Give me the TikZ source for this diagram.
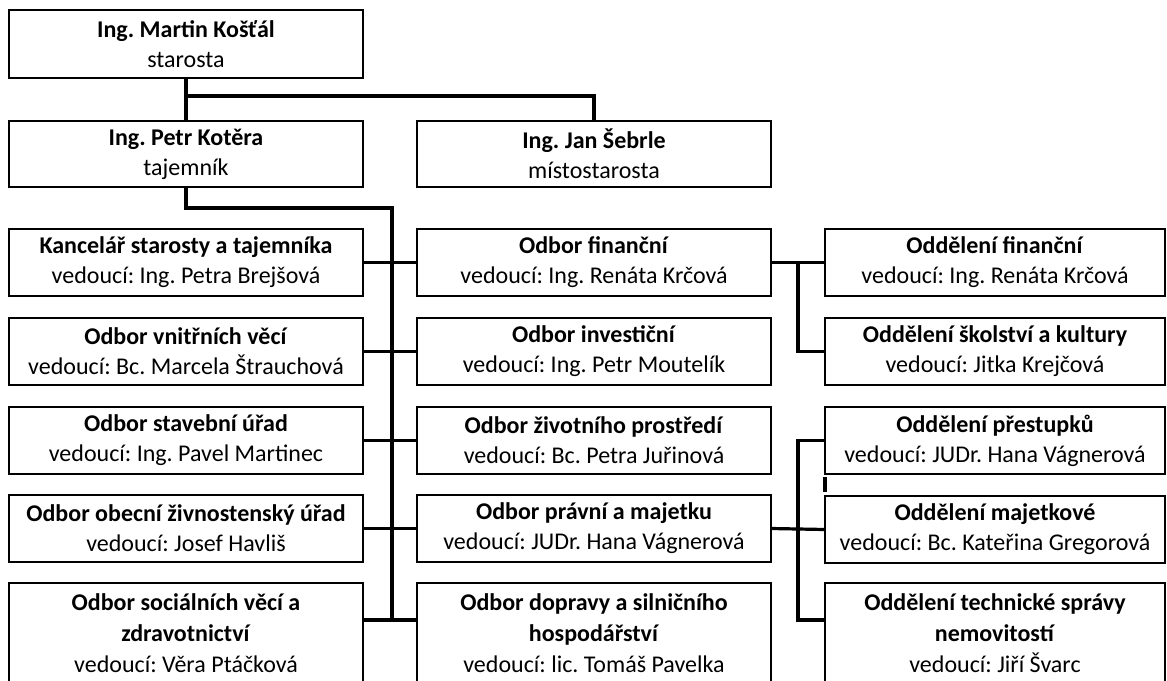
\documentclass[tikz,border=0pt]{standalone}
\usepackage{fontspec}
\setmainfont{Carlito}
\usetikzlibrary{calc}
\newcommand{\orgtext}[2]{\textbf{#1}\\#2}
\begin{document}
\begin{tikzpicture}[x=1pt, y=-1pt,
    box/.style={draw, line width=2.3pt, anchor=north west, align=center, inner sep=0pt, outer sep=0pt,
      minimum width=354pt, minimum height=67pt, font=\fontsize{24}{30}\selectfont\frenchspacing},
    rbox/.style={box, minimum width=340pt},
    tallbox/.style={minimum height=100pt, font=\fontsize{24}{31}\selectfont\frenchspacing},
    link/.style={line width=3.2pt}]
    \useasboundingbox (0,0) rectangle (1167,680);
    % vedeni
    \node[box, minimum height=68pt] (starosta) at (9,10) {\orgtext{Ing. Martin Košťál}{starosta}};
    \node[box, minimum height=66pt] (tajemnik) at (9,121) {\orgtext{Ing. Petr Kotěra}{tajemník}};
    \node[box, minimum height=66pt] (mistostarosta) at (417,121) {\orgtext{Ing. Jan Šebrle}{místostarosta}};
    % odbory vlevo
    \node[box] (kancelar) at (9,229) {\orgtext{Kancelář starosty a tajemníka}{vedoucí: Ing. Petra Brejšová}};
    \node[box] (vnitrni) at (9,318) {\orgtext{Odbor vnitřních věcí}{vedoucí: Bc. Marcela Štrauchová}};
    \node[box] (stavebni) at (9,407) {\orgtext{Odbor stavební úřad}{vedoucí: Ing. Pavel Martinec}};
    \node[box] (zivnost) at (9,495) {\orgtext{Odbor obecní živnostenský úřad}{vedoucí: Josef Havliš}};
    \node[box, tallbox] (socialni) at (9,583) {\textbf{Odbor sociálních věcí a}\\\textbf{zdravotnictví}\\vedoucí: Věra Ptáčková};
    % odbory uprostred
    \node[box] (financni) at (417,229) {\orgtext{Odbor finanční}{vedoucí: Ing. Renáta Krčová}};
    \node[box] (investicni) at (417,318) {\orgtext{Odbor investiční}{vedoucí: Ing. Petr Moutelík}};
    \node[box] (zivotni) at (417,407) {\orgtext{Odbor životního prostředí}{vedoucí: Bc. Petra Juřinová}};
    \node[box] (pravni) at (417,495) {\orgtext{Odbor právní a majetku}{vedoucí: JUDr. Hana Vágnerová}};
    \node[box, tallbox] (doprava) at (417,583) {\textbf{Odbor dopravy a silničního}\\\textbf{hospodářství}\\vedoucí: lic. Tomáš Pavelka};
    % oddeleni vpravo
    \node[rbox] (oddfin) at (825,229) {\orgtext{Oddělení finanční}{vedoucí: Ing. Renáta Krčová}};
    \node[rbox] (oddskol) at (825,318) {\orgtext{Oddělení školství a kultury}{vedoucí: Jitka Krejčová}};
    \node[rbox] (oddprest) at (825,407) {\orgtext{Oddělení přestupků}{vedoucí: JUDr. Hana Vágnerová}};
    \node[rbox] (oddmajet) at (825,496) {\orgtext{Oddělení majetkové}{vedoucí: Bc. Kateřina Gregorová}};
    \node[rbox, tallbox] (oddtech) at (825,583) {\textbf{Oddělení technické správy}\\\textbf{nemovitostí}\\vedoucí: Jiří Švarc};
    % spojnice
    \path (starosta.south) ++(0,18) coordinate (split);
    \coordinate (ttop) at (392,208);
    \coordinate (tbot) at (392,620);
    \coordinate (fork1) at ($(financni.east)!0.5!(oddfin.west)$);
    \coordinate (fork2) at ($(pravni.east)!0.5!(oddmajet.west)$);
    \draw[link] (starosta.south) -- (tajemnik.north);
    \draw[link] (split) -| (mistostarosta.north);
    \draw[link] (tajemnik.south) |- (ttop) -- (tbot);
    \foreach \l/\m in {kancelar/financni, vnitrni/investicni, stavebni/zivotni, zivnost/pravni}
      \draw[link] (\l.east) -- (\m.west);
    \draw[link] (socialni.east |- tbot) -- (doprava.west |- tbot);
    \draw[link] (financni.east) -- (oddfin.west);
    \draw[link] (fork1) |- (oddskol.west);
    \draw[link] (pravni.east) -- (oddmajet.west);
    \draw[link] (oddprest.west) -| (fork2 |- tbot) -- (oddtech.west |- tbot);
    \draw[link] ([yshift=-3pt]oddprest.south west) -- ([yshift=4pt]oddmajet.north west);
  \end{tikzpicture}
\end{document}
